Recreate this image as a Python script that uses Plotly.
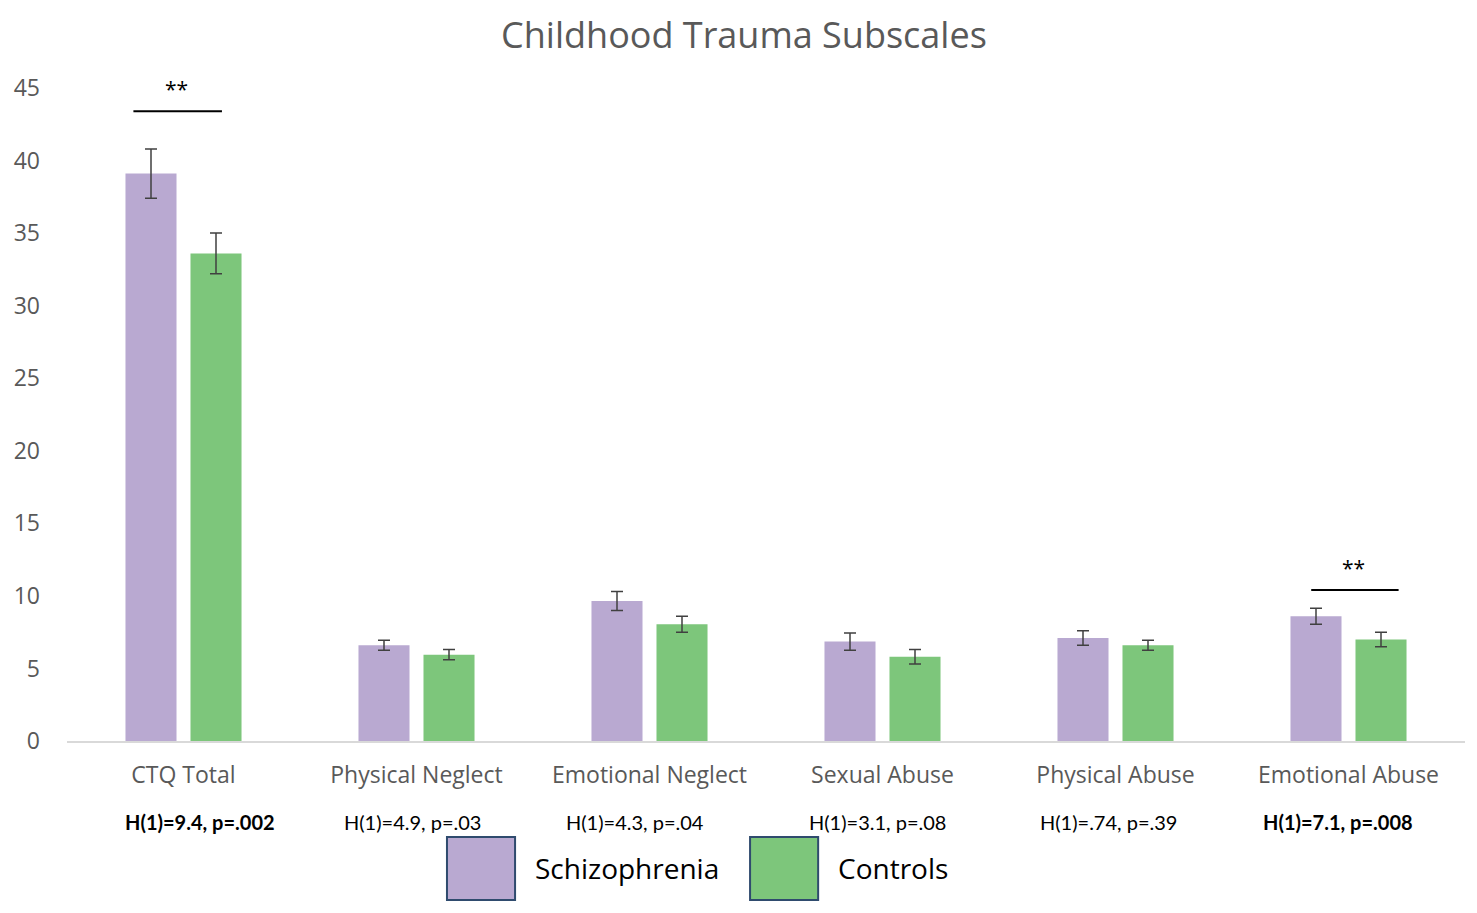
"""
Childhood Trauma Subscales: Schizophrenia vs Controls.
"""

import plotly.graph_objects as go

# Datos.
categorias = ["CTQ Total", "Physical Neglect", "Emotional Neglect",
              "Sexual Abuse", "Physical Abuse", "Emotional Abuse"]

schizophrenia = [39.1, 6.6, 9.65, 6.85, 7.1, 8.6]
schizophrenia_err = [1.7, 0.35, 0.65, 0.6, 0.5, 0.55]

controls = [33.6, 5.95, 8.05, 5.8, 6.6, 7.0]
controls_err = [1.4, 0.35, 0.55, 0.5, 0.35, 0.5]

estadisticos = ["H(1)=9.4, p=.002", "H(1)=4.9, p=.03", "H(1)=4.3, p=.04",
                "H(1)=3.1, p=.08", "H(1)=.74, p=.39", "H(1)=7.1, p=.008"]
significativos = [True, False, False, False, False, True]
nivel_sig = [43.4, None, None, None, None, 10.4]

color_sz = "#B9A9D1"
color_ct = "#7DC67B"
gris = "#595959"

# Ajustes de posicion (pixeles) de los textos de estadisticos.
corrimiento_txt = [16, -4, -15, -5, -7, -11]

# Desplazamiento (en unidades de categoria) de las lineas de significancia.
desp_sig = {0: (-0.215, 0.165, -0.03), 5: (-0.16, 0.215, 0.02)}


def plot():

    fig = go.Figure()

    fig.add_trace(
        go.Bar(
            x=categorias,
            y=schizophrenia,
            name="Schizophrenia",
            marker_color=color_sz,
            marker_line_width=0,
            error_y=dict(type="data", array=schizophrenia_err,
                         color="#404040", thickness=1.5, width=6),
        )
    )

    fig.add_trace(
        go.Bar(
            x=categorias,
            y=controls,
            name="Controls",
            marker_color=color_ct,
            marker_line_width=0,
            error_y=dict(type="data", array=controls_err,
                         color="#404040", thickness=1.5, width=6),
        )
    )

    anotaciones = []
    formas = []

    # Estadisticos debajo de cada categoria.
    for cat, txt, sig, dx in zip(categorias, estadisticos, significativos,
                                 corrimiento_txt):
        anotaciones.append(dict(
            x=cat, y=-0.124, xref="x", yref="paper", xshift=dx,
            xanchor="center", yanchor="middle", showarrow=False,
            text=f"<b>{txt}</b>" if sig else txt,
            font=dict(size=20, color="#000000", family="Lato"),
        ))

    # Lineas de significancia.
    for i, nivel in enumerate(nivel_sig):
        if nivel is None:
            continue
        a, b, c = desp_sig[i]
        formas.append(dict(
            type="line", xref="x", yref="y",
            x0=i + a, x1=i + b, y0=nivel, y1=nivel,
            line=dict(color="#000000", width=2),
        ))
        anotaciones.append(dict(
            x=i + c, y=nivel + 0.4, xref="x", yref="y",
            xanchor="center", yanchor="bottom", showarrow=False,
            text="**", font=dict(size=21, color="#000000"),
        ))

    # Leyenda dibujada a mano (cuadros grandes).
    for x0, color, nombre in [(0.2718, color_sz, "Schizophrenia"),
                              (0.4886, color_ct, "Controls")]:
        formas.append(dict(
            type="rect", xref="paper", yref="paper",
            x0=x0, x1=x0 + 0.0487, y0=-0.147, y1=-0.2435,
            fillcolor=color, line=dict(color="#2F4B6E", width=2),
        ))
        anotaciones.append(dict(
            x=x0 + 0.0487 + 0.0128, y=-0.195, xref="paper", yref="paper",
            xanchor="left", yanchor="middle", showarrow=False,
            text=nombre, font=dict(size=28, color="#000000"),
        ))

    fig.update_xaxes(
        showline=True,
        linecolor="#D9D9D9",
        linewidth=2,
        showgrid=False,
        tickfont=dict(size=23, color=gris),
        ticks="",
        ticklabelstandoff=12,
        automargin=False,
    )

    fig.update_yaxes(
        range=[0, 45],
        dtick=5,
        showgrid=False,
        zeroline=False,
        showline=False,
        tickfont=dict(size=23, color=gris),
        ticklabelstandoff=26,
        automargin=False,
    )

    fig.update_layout(
        barmode="group",
        bargap=0.442,
        bargroupgap=0.215,
        showlegend=False,
        width=1469,
        height=905,
        font_family="Open Sans",
        title=dict(
            text="Childhood Trauma Subscales",
            x=0.501, xanchor="center",
            y=0.970, yanchor="middle",
            font=dict(size=36, color=gris),
        ),
        margin=dict(t=80, l=59, r=12, b=172, autoexpand=False),
        plot_bgcolor="#FFFFFF",
        paper_bgcolor="#FFFFFF",
        annotations=anotaciones,
        shapes=formas,
    )

    fig.write_html("out.html")


if __name__ == "__main__":

    plot()
